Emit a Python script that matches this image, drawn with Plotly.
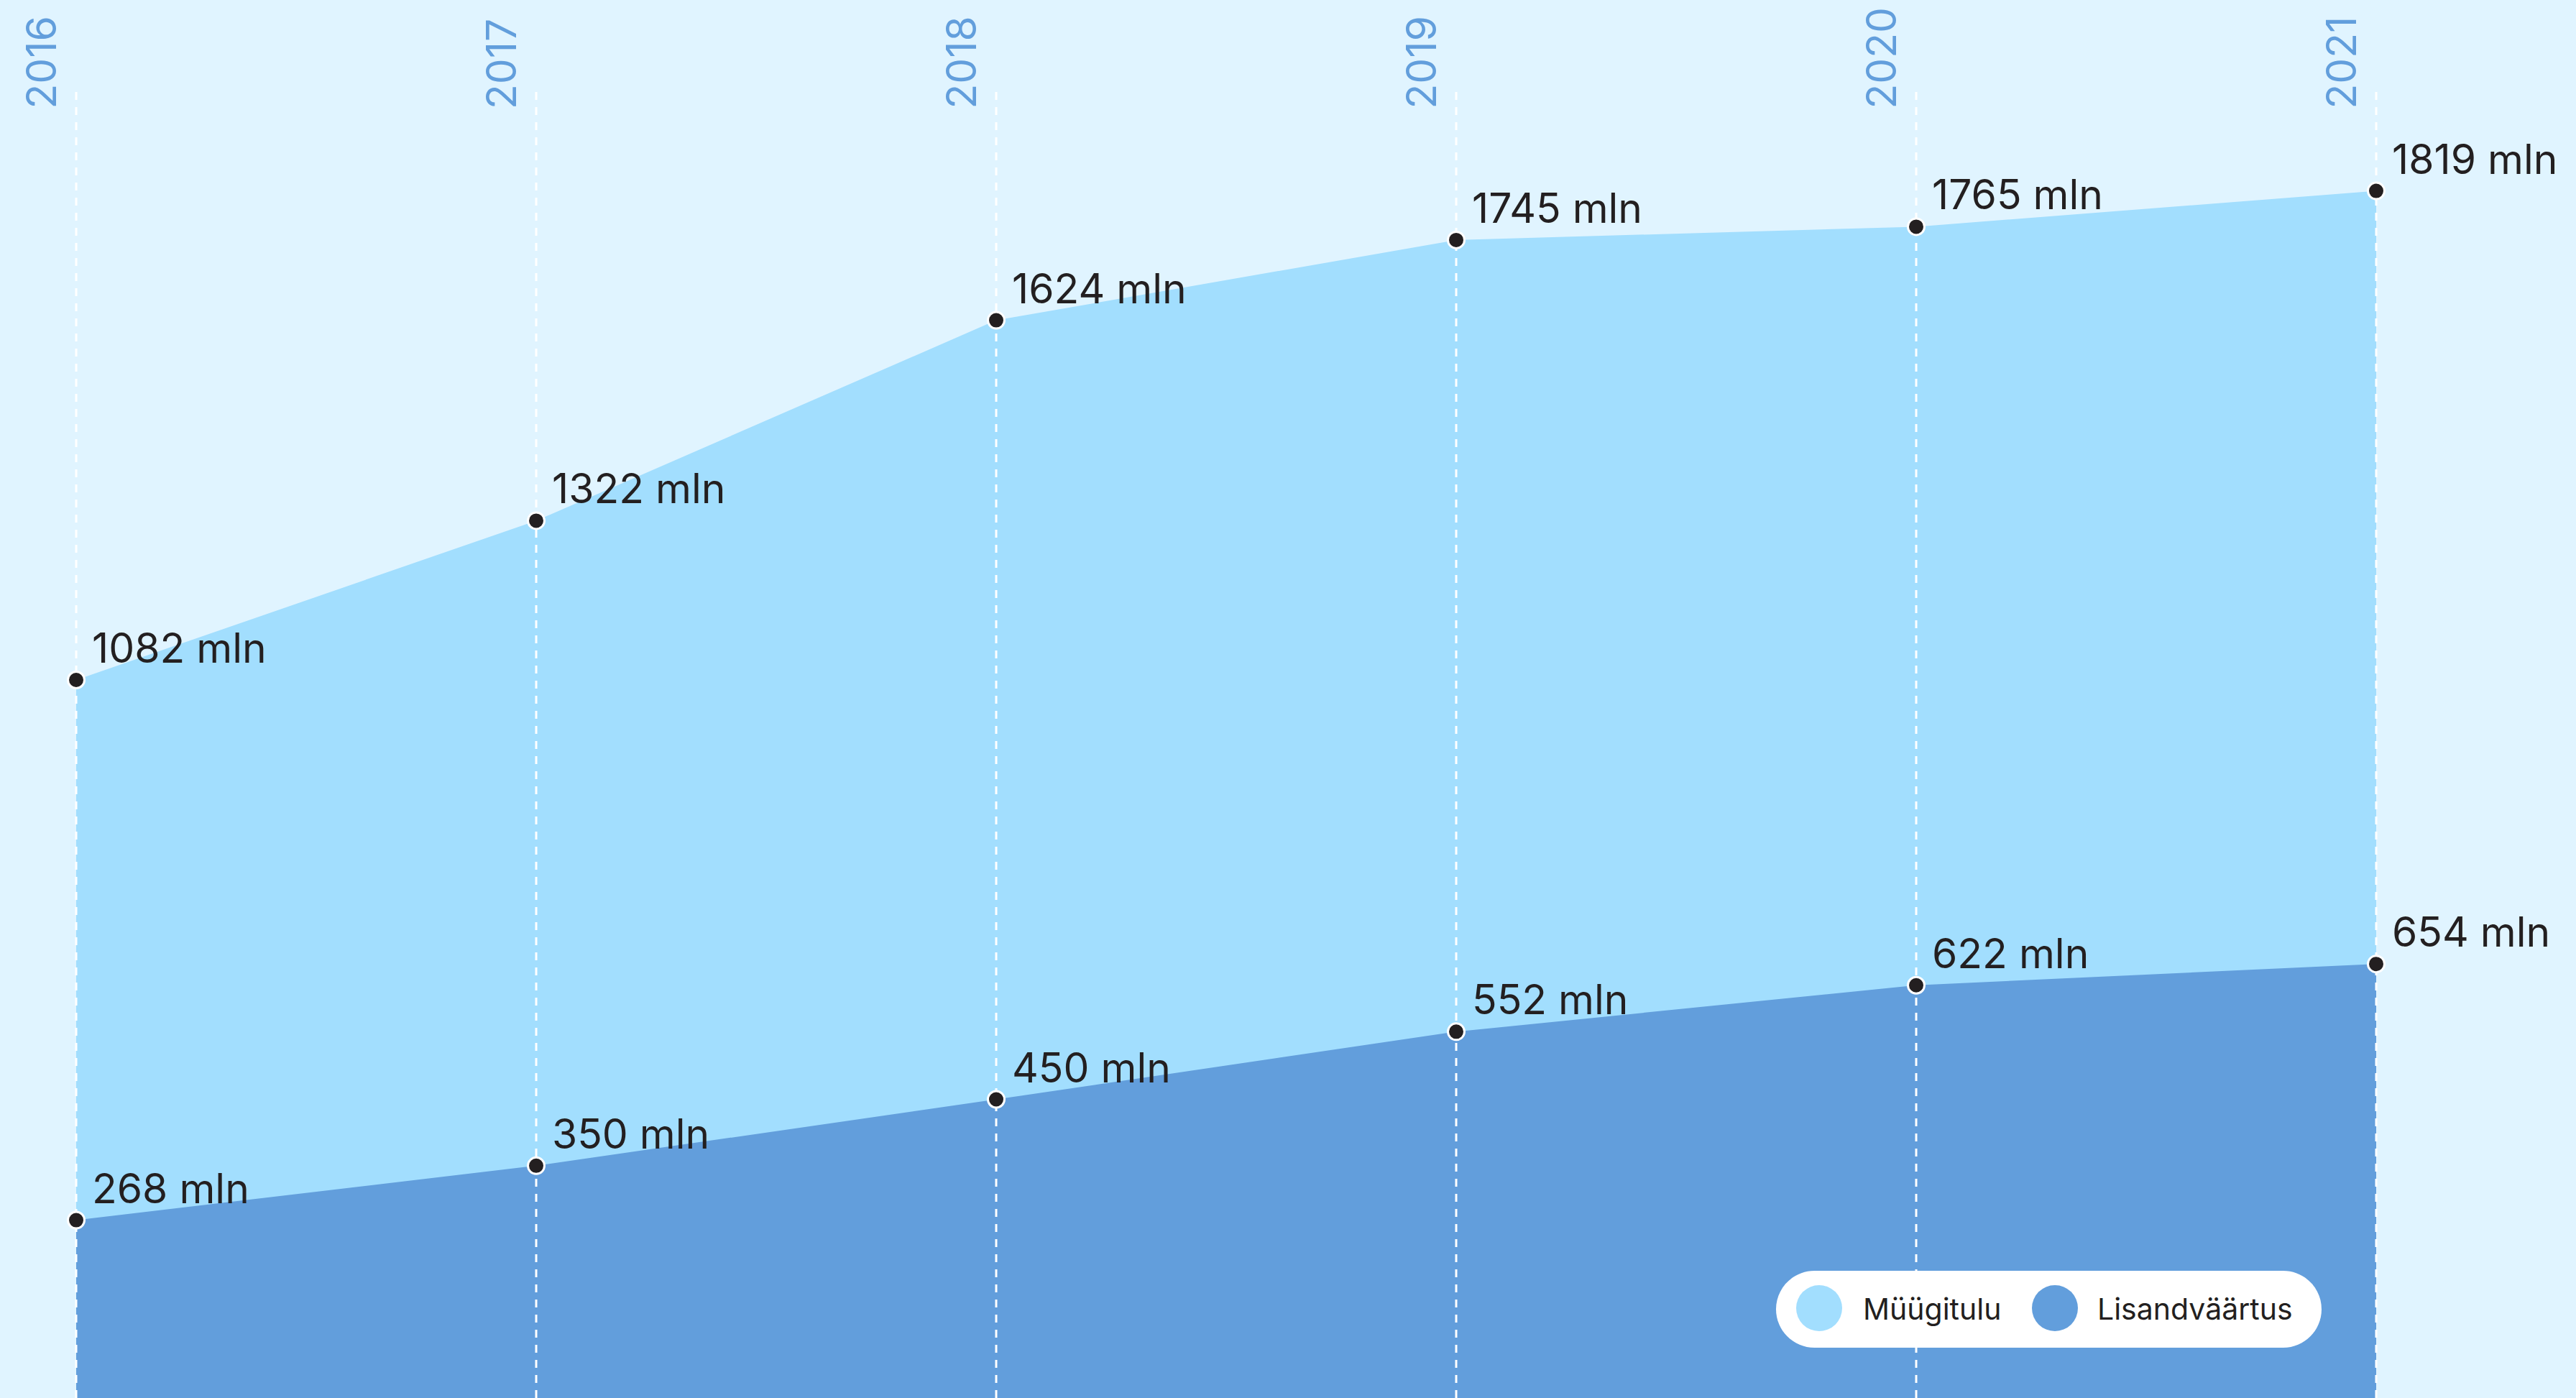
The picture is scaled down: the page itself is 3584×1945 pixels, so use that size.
import plotly.graph_objects as go

# ---------------- data ----------------
years = [2016, 2017, 2018, 2019, 2020, 2021]
muugitulu = [1082, 1322, 1624, 1745, 1765, 1819]      # mln
lisandvaartus = [268, 350, 450, 552, 622, 654]        # mln
series_names = ["Müügitulu", "Lisandväärtus"]
unit = "mln"

# ---------------- style ----------------
W, H = 3584, 1945
TOP = 128
PLOT_H = H - TOP
Y_MAX = 1968
BG = "rgb(224,244,255)"
C_LIGHT = "rgb(162,222,254)"
C_DARK = "rgb(98,158,220)"
TXT = "#231f20"
FONT = "Inter, Noto Sans, sans-serif"

fig = go.Figure()

# areas
fig.add_trace(go.Scatter(x=years, y=muugitulu, mode="lines", fill="tozeroy",
                         fillcolor=C_LIGHT, line=dict(width=0, color=C_LIGHT),
                         hoverinfo="skip", showlegend=False))
fig.add_trace(go.Scatter(x=years, y=lisandvaartus, mode="lines", fill="tozeroy",
                         fillcolor=C_DARK, line=dict(width=0, color=C_DARK),
                         hoverinfo="skip", showlegend=False))

# dashed vertical guides
for yr in years:
    fig.add_trace(go.Scatter(x=[yr, yr], y=[0, Y_MAX], mode="lines",
                             line=dict(color="white", width=3, dash="11px,10px"),
                             hoverinfo="skip", showlegend=False))

# markers
for vals in (muugitulu, lisandvaartus):
    fig.add_trace(go.Scatter(x=years, y=vals, mode="markers",
                             marker=dict(size=23, color=TXT, line=dict(color="white", width=3)),
                             hoverinfo="skip", showlegend=False))

annotations = []
# value labels
for vals in (muugitulu, lisandvaartus):
    for yr, v in zip(years, vals):
        annotations.append(dict(x=yr, y=v, xref="x", yref="y", text=f"{v} {unit}",
                                showarrow=False, xanchor="left", yanchor="bottom",
                                xshift=20, yshift=8,
                                font=dict(family=FONT, size=57, color=TXT)))
# year labels (top, rotated)
for yr in years:
    annotations.append(dict(x=yr, y=1, xref="x", yref="paper", text=str(yr),
                            showarrow=False, textangle=-90, xanchor="center",
                            yanchor="bottom", xshift=-49, yshift=-26,
                            font=dict(family=FONT, size=57, color=C_DARK)))


def P(x, y):
    return x / W, (H - y) / PLOT_H


def pt(x, y):
    px, py = P(x, y)
    return f"{px:.6f},{py:.6f}"


# custom legend pill
lx0, lx1, ly0, ly1 = 2471, 3230, 1768, 1875
r = (ly1 - ly0) / 2
k = 0.5523 * r
path = (f"M {pt(lx0 + r, ly0)} L {pt(lx1 - r, ly0)} "
        f"C {pt(lx1 - r + k, ly0)} {pt(lx1, ly0 + r - k)} {pt(lx1, ly0 + r)} "
        f"C {pt(lx1, ly0 + r + k)} {pt(lx1 - r + k, ly1)} {pt(lx1 - r, ly1)} "
        f"L {pt(lx0 + r, ly1)} "
        f"C {pt(lx0 + r - k, ly1)} {pt(lx0, ly0 + r + k)} {pt(lx0, ly0 + r)} "
        f"C {pt(lx0, ly0 + r - k)} {pt(lx0 + r - k, ly0)} {pt(lx0 + r, ly0)} Z")
shapes = [dict(type="path", xref="paper", yref="paper", path=path,
               fillcolor="white", line=dict(width=0), layer="above")]

legend_items = [(2531, 2593, C_LIGHT), (2859, 2919, C_DARK)]
for (cx, tx, col), name in zip(legend_items, series_names):
    x0, y0 = P(cx - 32, 1820 + 32)
    x1, y1 = P(cx + 32, 1820 - 32)
    shapes.append(dict(type="circle", xref="paper", yref="paper", x0=x0, x1=x1,
                       y0=y0, y1=y1, fillcolor=col, line=dict(width=0), layer="above"))
    ax, ay = P(tx - 3, 1821)
    annotations.append(dict(x=ax, y=ay, xref="paper", yref="paper", text=name,
                            showarrow=False, xanchor="left", yanchor="middle",
                            font=dict(family=FONT, size=41, color=TXT)))

fig.update_layout(
    width=W, height=H,
    margin=dict(l=0, r=0, t=TOP, b=0, pad=0),
    paper_bgcolor=BG, plot_bgcolor=BG,
    xaxis=dict(range=[2016 - 106 / 640, 2021 + (W - 3306) / 640], visible=False, fixedrange=True),
    yaxis=dict(range=[0, Y_MAX], visible=False, fixedrange=True),
    annotations=annotations, shapes=shapes, showlegend=False,
)

fig.write_html("out.html",
               config={"displayModeBar": False},
               post_script="document.body.style.margin='0px';"
                           "document.body.style.background='rgb(224,244,255)';")
